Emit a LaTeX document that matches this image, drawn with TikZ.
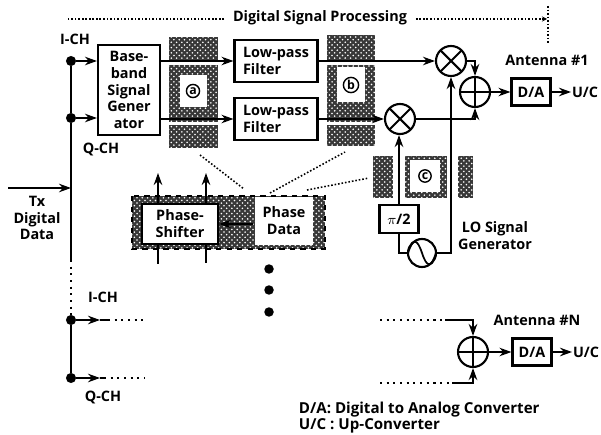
\documentclass[tikz,border=0pt]{standalone}
\usepackage{fontspec}
\setmainfont{Open Sans}
\usetikzlibrary{patterns,arrows.meta}
\tikzset{
  box/.style={draw, rectangle, fill=white, line width=1.2pt, inner sep=0pt, align=center},
  dot/.style={draw, circle, fill=black, inner sep=0pt, minimum size=0.16cm},
  bigdot/.style={circle, fill=black, inner sep=0pt, minimum size=0.19cm},
  mixer/.style={draw, circle, fill=white, line width=1.2pt, inner sep=0pt, minimum size=0.6cm,
    path picture={\draw[line width=1.2pt] (path picture bounding box.north west) -- (path picture bounding box.south east)
      (path picture bounding box.north east) -- (path picture bounding box.south west);}},
  adder/.style={draw, circle, fill=white, line width=1.2pt, inner sep=0pt, minimum size=0.6cm,
    path picture={\draw[line width=1.2pt] (path picture bounding box.north) -- (path picture bounding box.south)
      (path picture bounding box.east) -- (path picture bounding box.west);}},
  osc/.style={draw, circle, fill=white, line width=1.2pt, inner sep=0pt, minimum size=0.56cm,
    path picture={\draw[line width=1pt] (path picture bounding box.west) .. controls +(5,-15) and +(-5,-15) .. (path picture bounding box.center)
      .. controls +(5,15) and +(-5,15) .. (path picture bounding box.east);}},
  stipple/.style={preaction={fill=black!78}, pattern=crosshatch dots, pattern color=white},
  window/.style={rectangle, fill=white, inner sep=0pt},
  letter/.style={draw, circle, line width=0.8pt, inner sep=0.6pt, font=\scriptsize\bfseries},
  lbl/.style={font=\fontsize{8.2}{9.6}\selectfont\bfseries, inner sep=0pt, align=center},
  dots/.style={line width=1.2pt, dash pattern=on 1.2pt off 2.6pt},
  fine/.style={line width=0.9pt, dash pattern=on 0.9pt off 1.1pt}
}
\begin{document}
\begin{tikzpicture}[x=0.02cm, y=-0.02cm, >={Stealth[length=0.24cm, width=0.17cm]}, line width=1.1pt]
\useasboundingbox (0,0) rectangle (601,435);

\fill[stipple] (169,37) rectangle (218,148);
\fill[stipple] (327,35) rectangle (375,146);
\fill[stipple] (373,156) rectangle (393,198);
\fill[stipple] (405,156) rectangle (447,198);
\fill[stipple] (458,156) rectangle (473,198);
\fill[stipple] (132,196) rectangle (325,249);
\draw[black, line width=1.2pt, dashed] (132,196) rectangle (325,249);
\fill[white] (169,62) rectangle (218,65);
\fill[white] (169,122) rectangle (218,125);
\fill[white] (327,62) rectangle (375,65);
\fill[white] (327,122) rectangle (375,125);

\node (wa) [window, minimum width=0.54cm, minimum height=0.64cm] at (193,91) {};
\node (ca) [letter] at (193,91) {a};
\node (wb) [window, minimum width=0.56cm, minimum height=0.7cm] at (351,85) {};
\node (cb) [letter] at (351,85) {b};
\node (wc) [window, minimum width=0.6cm, minimum height=0.64cm] at (425,176) {};
\node (cc) [letter] at (425,176) {c};

\node (bb) [box, minimum width=1.24cm, minimum height=1.8cm, lbl] at (129,90) {Base-\\band\\Signal\\Gener\\ator};
\node (lpf1) [box, minimum width=1.66cm, minimum height=0.84cm, lbl, align=left] at (276,61) {Low-pass\\Filter};
\node (lpf2) [box, minimum width=1.66cm, minimum height=0.84cm, lbl, align=left] at (276,119) {Low-pass\\Filter};
\node (mix1) [mixer] at (451,61) {};
\node (mix2) [mixer] at (400,119) {};
\node (add1) [adder] at (475,92) {};
\node (da1) [box, minimum width=0.78cm, minimum height=0.54cm, lbl] at (531,92) {D/A};
\node (uc1) [lbl] at (585,92) {U/C};
\node (ant1) [lbl] at (547,60) {Antenna \#1};
\node (pi) [box, minimum width=0.78cm, minimum height=0.56cm, lbl] at (399,219) {$\pi$/2};
\node (lo) [osc] at (422,253) {};
\node (lolbl) [lbl] at (495,236) {LO Signal\\Generator};
\node (shift) [box, minimum width=1.52cm, minimum height=0.8cm, lbl] at (180,224) {Phase-\\Shifter};
\node (data) [box, draw=none, minimum width=1.18cm, minimum height=0.96cm, lbl] at (284,221) {Phase\\Data};

\node (title) [lbl] at (320,18) {Digital Signal Processing};
\node (ich1) [lbl] at (75,39) {I-CH};
\node (qch1) [lbl] at (101,150) {Q-CH};
\node (tx) [lbl] at (37,218) {Tx\\Digital\\Data};
\node (ich2) [lbl] at (103,297) {I-CH};
\node (qch2) [lbl] at (103,397) {Q-CH};

\node (i1) [dot] at (71,61) {};
\node (q1) [dot] at (71,118) {};
\node (i2) [dot] at (71,320) {};
\node (q2) [dot] at (71,378) {};
\coordinate (txin) at (8,188);
\coordinate (buscut) at (71,260);
\coordinate (i2end) at (145,320);
\coordinate (q2end) at (145,378);

\node (more1) [bigdot] at (269,269) {};
\node (more2) [bigdot] at (269,290) {};
\node (more3) [bigdot] at (269,312) {};

\node (addn) [adder] at (473,352) {};
\node (dan) [box, minimum width=0.78cm, minimum height=0.54cm, lbl] at (532,352) {D/A};
\node (ucn) [lbl] at (586,352) {U/C};
\node (antn) [lbl] at (537,320) {Antenna \#N};
\node (legend) [lbl, align=left, anchor=north west, font=\fontsize{8.6}{9.4}\selectfont\bfseries] at (298,401) {D/A: Digital to Analog Converter\\U/C : Up-Converter};
\coordinate (ntop) at (380,320);
\coordinate (nbot) at (380,383);
\coordinate (ntopa) at (445,320);
\coordinate (nbota) at (452,383);

\draw (i1) -- (q1);
\draw (q1) -- (buscut);
\draw[dots] (buscut) -- (i2);
\draw (i2) -- (q2);
\draw[->] (txin) -- (txin -| i1);
\draw[->] (i1) -- (i1 -| bb.west);
\draw[->] (q1) -- (q1 -| bb.west);
\draw[->] (bb.east |- lpf1.west) -- (lpf1.west);
\draw[->] (bb.east |- lpf2.west) -- (lpf2.west);
\draw[->] (lpf1.east) -- (mix1.west);
\draw[->] (lpf2.east) -- (mix2.west);
\draw[->] (mix1.east) -| (add1.north);
\draw[->] (mix2.east) -| (add1.south);
\draw[->] (add1.east) -- (da1.west);
\draw[->] (da1.east) -- (uc1.west);
\draw[->] (pi.north) -- (pi.north |- mix2.south);
\draw (lo.west) -| (pi.south);
\draw[->] (lo.east) -| (mix1.south);

\draw[->] (158,204) -- (158,173);
\draw[->] (206,204) -- (206,173);
\draw (158,244) -- (158,264);
\draw (206,244) -- (206,263);
\draw[->] (data.west |- shift.east) -- (shift.east);

\draw[->] (i2) -- (100,320);
\draw (100,320) -- (108,320);
\draw[dots] (108,320) -- (i2end);
\draw[->] (q2) -- (100,378);
\draw (100,378) -- (104,378);
\draw[dots] (104,378) -- (q2end);
\draw[dots] (ntop) -- (ntopa);
\draw[dots] (nbot) -- (nbota);
\draw[->] (ntopa) -| (addn.north);
\draw[->] (nbota) -| (addn.south);
\draw[->] (addn.east) -- (dan.west);
\draw[->] (dan.east) -- (ucn.west);

\draw[fine] (title.west) ++(-8,1) -- (67,19);
\draw[fine, -{Stealth[length=0.1cm, width=0.1cm]}] (title.east) ++(8,1) -- (547,19);
\draw[fine] (548,6) -- (548,43);
\draw[fine] (200,155) -- (244,189);
\draw[fine] (270,193) -- (345,152);
\draw[fine] (307,190) -- (369,178);
\end{tikzpicture}
\end{document}
